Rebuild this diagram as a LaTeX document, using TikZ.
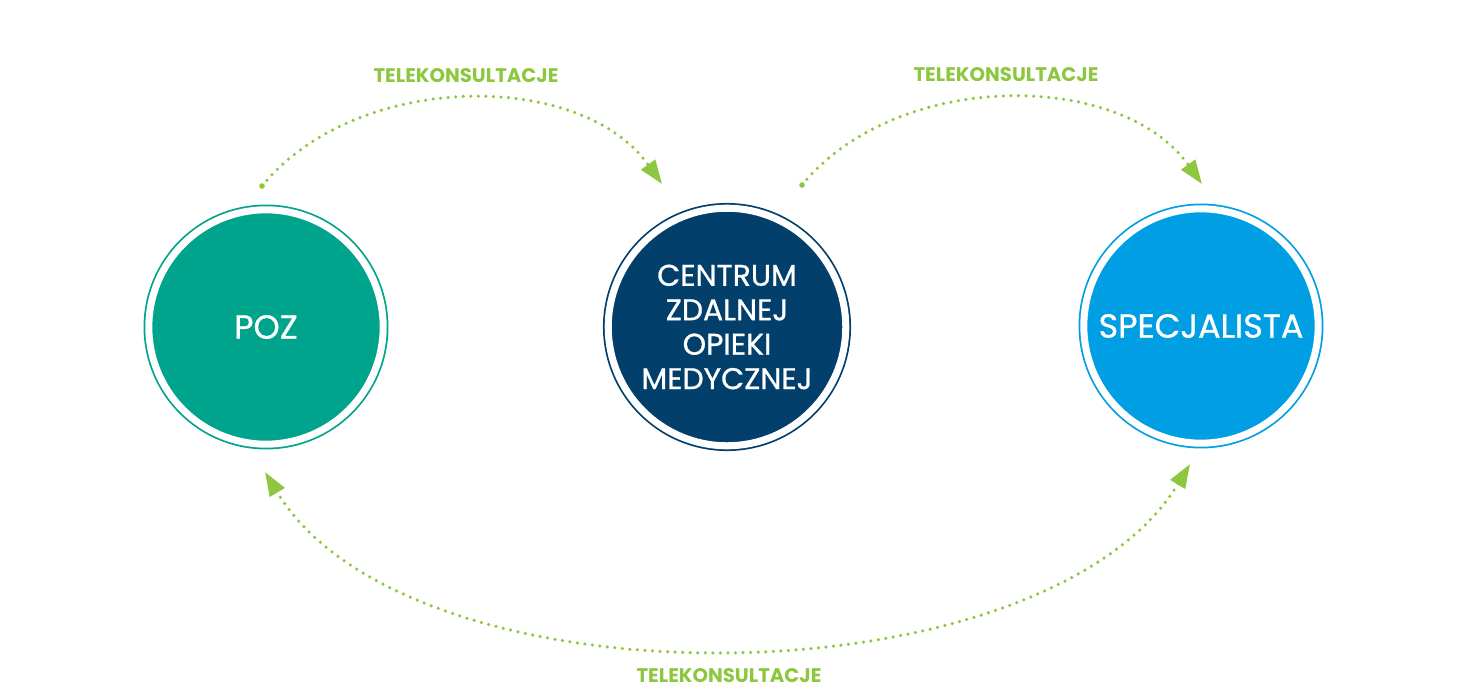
\documentclass[tikz,border=0pt]{standalone}
\usepackage{fontspec}
\setmainfont{Poppins}
\newfontfamily\srodek{Poppins}[FakeBold=0.8]
\usetikzlibrary{calc,positioning,arrows.meta}
\definecolor{pozkolor}{HTML}{00A38B}
\definecolor{centrumkolor}{HTML}{02406B}
\definecolor{speckolor}{HTML}{009FE3}
\definecolor{zielony}{HTML}{8DC63F}
\tikzset{
	osrodek/.style={circle, line width=1pt, double=white, double distance=4pt, minimum size=133.4pt, text=white, align=center, inner sep=0pt},
	etykieta/.style={text=zielony, font=\bfseries\fontsize{11.2}{13}\selectfont},
	grot/.tip={Triangle[length=13.6pt,width=9.5pt]},
	tele/.style={draw=zielony, line width=2pt, line cap=round, dash pattern=on 0pt off 4.3pt},
}

\begin{document}
\begin{tikzpicture}[x=0.02cm,y=-0.02cm]
	\useasboundingbox (0,0) rectangle (1481,693);
	\node[osrodek, draw=pozkolor, fill=pozkolor, font=\srodek\fontsize{19}{22}\selectfont] at (266,327) (poz) {POZ};
	\node[osrodek, draw=centrumkolor, fill=centrumkolor, minimum size=135.2pt, font=\srodek\fontsize{17}{19.6}\selectfont] at (727,327) (centrum) {CENTRUM\\ZDALNEJ\\OPIEKI\\MEDYCZNEJ};
	\node[osrodek, draw=speckolor, fill=speckolor, font=\srodek\fontsize{19}{22}\selectfont] at (1201,326) (spec) {SPECJALISTA};
	\draw[tele, -grot] ($(poz.center)+(-4,-141)$) .. controls +(94,-115) and +(-82,-115) .. ($(centrum.center)+(-65,-143)$);
	\draw[tele, -grot] ($(centrum.center)+(75,-142)$) .. controls +(94,-115) and +(-82,-115) .. ($(spec.center)+(1,-142)$);
	\draw[tele, grot-grot] ($(spec.center)+(-11,138)$) .. controls +(-145,240) and +(145,240) .. ($(poz.center)+(-1,145)$);
	\fill[zielony] ($(poz.center)+(-4,-141)$) circle (1.6pt);
	\fill[zielony] ($(centrum.center)+(75,-142)$) circle (1.6pt);
	\foreach \x/\y in {466/76,1006/75,729/676}{
		\node[etykieta] at (\x,\y) (tk\x) {TELEKONSULTACJE};
	}
\end{tikzpicture}
\end{document}
